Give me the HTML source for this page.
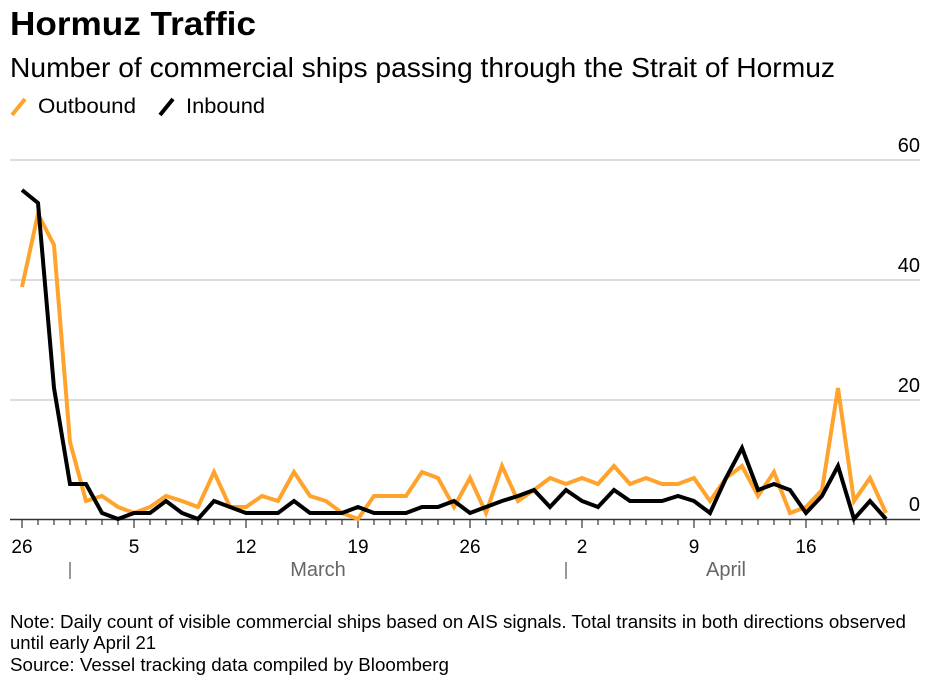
<!DOCTYPE html>
<html><head><meta charset="utf-8"><style>
body{margin:0;background:#fff;width:950px;height:685px;overflow:hidden;font-family:"Liberation Sans",Arial,sans-serif;}
</style></head><body>
<svg width="950" height="685" xmlns="http://www.w3.org/2000/svg" font-family="Liberation Sans, Arial, sans-serif">
<text x="10" y="35" font-size="33" font-weight="bold" fill="#000" textLength="246" lengthAdjust="spacingAndGlyphs">Hormuz Traffic</text>
<text x="10" y="77" font-size="28" fill="#000" textLength="825" lengthAdjust="spacingAndGlyphs">Number of commercial ships passing through the Strait of Hormuz</text>
<line x1="12" y1="115" x2="25" y2="99" stroke="#ffa32c" stroke-width="4"/>
<text x="38" y="113" font-size="21.5" textLength="98" lengthAdjust="spacingAndGlyphs">Outbound</text>
<line x1="160" y1="115" x2="173" y2="99" stroke="#000" stroke-width="4"/>
<text x="186" y="113" font-size="21.5" textLength="79" lengthAdjust="spacingAndGlyphs">Inbound</text>
<g stroke="#d0d0d0" stroke-width="1.5">
<line x1="10" y1="160" x2="920" y2="160"/><line x1="10" y1="280" x2="920" y2="280"/><line x1="10" y1="400" x2="920" y2="400"/>
</g>
<g font-size="20" text-anchor="end" fill="#000">
<text x="920" y="152">60</text><text x="920" y="272">40</text><text x="920" y="392">20</text><text x="920" y="511">0</text>
</g>
<line x1="10" y1="519.5" x2="920" y2="519.5" stroke="#333" stroke-width="1.5"/>
<g stroke="#333" stroke-width="1.2">
<line x1="22" y1="520" x2="22" y2="528"/><line x1="38" y1="520" x2="38" y2="525"/><line x1="54" y1="520" x2="54" y2="525"/><line x1="70" y1="520" x2="70" y2="525"/><line x1="86" y1="520" x2="86" y2="525"/><line x1="102" y1="520" x2="102" y2="525"/><line x1="118" y1="520" x2="118" y2="525"/><line x1="134" y1="520" x2="134" y2="528"/><line x1="150" y1="520" x2="150" y2="525"/><line x1="166" y1="520" x2="166" y2="525"/><line x1="182" y1="520" x2="182" y2="525"/><line x1="198" y1="520" x2="198" y2="525"/><line x1="214" y1="520" x2="214" y2="525"/><line x1="230" y1="520" x2="230" y2="525"/><line x1="246" y1="520" x2="246" y2="528"/><line x1="262" y1="520" x2="262" y2="525"/><line x1="278" y1="520" x2="278" y2="525"/><line x1="294" y1="520" x2="294" y2="525"/><line x1="310" y1="520" x2="310" y2="525"/><line x1="326" y1="520" x2="326" y2="525"/><line x1="342" y1="520" x2="342" y2="525"/><line x1="358" y1="520" x2="358" y2="528"/><line x1="374" y1="520" x2="374" y2="525"/><line x1="390" y1="520" x2="390" y2="525"/><line x1="406" y1="520" x2="406" y2="525"/><line x1="422" y1="520" x2="422" y2="525"/><line x1="438" y1="520" x2="438" y2="525"/><line x1="454" y1="520" x2="454" y2="525"/><line x1="470" y1="520" x2="470" y2="528"/><line x1="486" y1="520" x2="486" y2="525"/><line x1="502" y1="520" x2="502" y2="525"/><line x1="518" y1="520" x2="518" y2="525"/><line x1="534" y1="520" x2="534" y2="525"/><line x1="550" y1="520" x2="550" y2="525"/><line x1="566" y1="520" x2="566" y2="525"/><line x1="582" y1="520" x2="582" y2="528"/><line x1="598" y1="520" x2="598" y2="525"/><line x1="614" y1="520" x2="614" y2="525"/><line x1="630" y1="520" x2="630" y2="525"/><line x1="646" y1="520" x2="646" y2="525"/><line x1="662" y1="520" x2="662" y2="525"/><line x1="678" y1="520" x2="678" y2="525"/><line x1="694" y1="520" x2="694" y2="528"/><line x1="710" y1="520" x2="710" y2="525"/><line x1="726" y1="520" x2="726" y2="525"/><line x1="742" y1="520" x2="742" y2="525"/><line x1="758" y1="520" x2="758" y2="525"/><line x1="774" y1="520" x2="774" y2="525"/><line x1="790" y1="520" x2="790" y2="525"/><line x1="806" y1="520" x2="806" y2="528"/><line x1="822" y1="520" x2="822" y2="525"/><line x1="838" y1="520" x2="838" y2="525"/><line x1="854" y1="520" x2="854" y2="525"/><line x1="870" y1="520" x2="870" y2="525"/><line x1="886" y1="520" x2="886" y2="525"/>
</g>
<g font-size="19" text-anchor="middle" fill="#000">
<text x="22" y="553">26</text><text x="134" y="553">5</text><text x="246" y="553">12</text><text x="358" y="553">19</text><text x="470" y="553">26</text><text x="582" y="553">2</text><text x="694" y="553">9</text><text x="806" y="553">16</text>
</g>
<line x1="70" y1="562" x2="70" y2="579" stroke="#777" stroke-width="1.5"/>
<line x1="566" y1="562" x2="566" y2="579" stroke="#777" stroke-width="1.5"/>
<text x="318" y="576" font-size="20" text-anchor="middle" fill="#666">March</text>
<text x="726" y="576" font-size="20" text-anchor="middle" fill="#666">April</text>
<polyline fill="none" stroke="#ffa32c" stroke-width="4" points="22,287 38,214 54,245 70,442 86,501 102,496 118,507 134,513 150,507 166,496 182,501 198,507 214,472 230,507 246,507 262,496 278,501 294,472 310,496 326,501 342,513 358,519 374,496 390,496 406,496 422,472 438,478 454,507 470,478 486,513 502,466 518,501 534,490 550,478 566,484 582,478 598,484 614,466 630,484 646,478 662,484 678,484 694,478 710,501 726,478 742,466 758,496 774,472 790,513 806,507 822,490 838,388 854,501 870,478 886,513"/>
<polyline fill="none" stroke="#000" stroke-width="4" points="22,190 38,203 54,388 70,484 86,484 102,513 118,519 134,513 150,513 166,501 182,513 198,519 214,501 230,507 246,513 262,513 278,513 294,501 310,513 326,513 342,513 358,507 374,513 390,513 406,513 422,507 438,507 454,501 470,513 486,507 502,501 518,496 534,490 550,507 566,490 582,501 598,507 614,490 630,501 646,501 662,501 678,496 694,501 710,513 726,478 742,448 758,490 774,484 790,490 806,513 822,496 838,466 854,519 870,501 886,519"/>
<text x="10" y="628" font-size="18.5" fill="#000" textLength="896" lengthAdjust="spacingAndGlyphs">Note: Daily count of visible commercial ships based on AIS signals. Total transits in both directions observed</text>
<text x="10" y="649" font-size="18.5" fill="#000">until early April 21</text>
<text x="10" y="671" font-size="18.5" fill="#000" textLength="439" lengthAdjust="spacingAndGlyphs">Source: Vessel tracking data compiled by Bloomberg</text>
</svg>
</body></html>
